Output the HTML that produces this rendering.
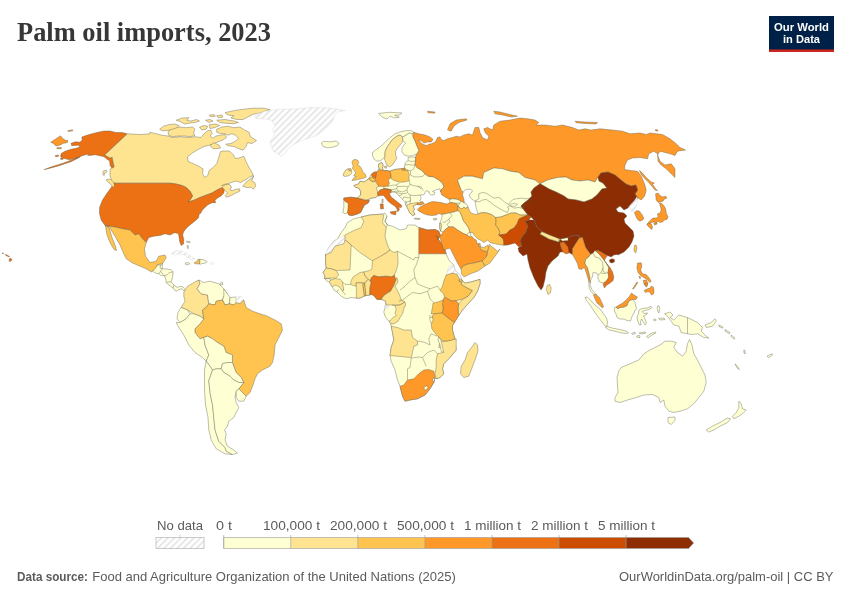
<!DOCTYPE html>
<html lang="en"><head><meta charset="utf-8"><title>Palm oil imports, 2023</title>
<style>
html,body{margin:0;padding:0;background:#fff;}
body{width:850px;height:600px;overflow:hidden;position:relative;font-family:"Liberation Sans",sans-serif;}
svg{position:absolute;left:0;top:0;display:block}
text{font-family:"Liberation Sans",sans-serif;}
.ttl{font-family:"Liberation Serif",serif;font-weight:bold;fill:#373737;}
.lg{font-size:13px;fill:#5b5b5b;}
.ft{font-size:13px;fill:#5b5b5b;}
</style></head><body>
<svg width="850" height="600" viewBox="0 0 850 600">
<defs>
<pattern id="h" width="4.6" height="4.6" patternUnits="userSpaceOnUse" patternTransform="rotate(-45)">
<rect width="4.6" height="4.6" fill="#fff"/><line x1="0" y1="2.3" x2="4.6" y2="2.3" stroke="#e0e0e0" stroke-width="1.5"/>
</pattern>
</defs>
<rect width="850" height="600" fill="#fff"/>
<text class="ttl" x="17" y="41" font-size="27" textLength="254" lengthAdjust="spacingAndGlyphs">Palm oil imports, 2023</text>
<!-- logo -->
<g>
<rect x="769" y="16" width="65" height="36" fill="#002147"/>
<rect x="769" y="49.5" width="65" height="2.5" fill="#ce261e"/>
<text x="801.5" y="30.8" text-anchor="middle" font-size="11.5" font-weight="bold" fill="#fff" textLength="55" lengthAdjust="spacingAndGlyphs">Our World</text>
<text x="801.5" y="43.2" text-anchor="middle" font-size="11.5" font-weight="bold" fill="#fff" textLength="37" lengthAdjust="spacingAndGlyphs">in Data</text>
</g>
<!-- map -->
<g stroke="#5a5a4a" stroke-width="0.4" stroke-linejoin="round">
<polygon points="127.2,133.7 122.0,132.5 116.0,132.5 110.0,131.0 104.0,131.0 98.0,132.2 92.0,133.7 86.0,135.5 81.8,137.0 82.2,140.0 80.0,142.2 75.5,141.8 71.0,143.3 71.7,145.7 78.5,145.2 80.0,146.7 76.2,148.2 71.0,149.3 65.0,151.2 61.2,153.5 60.5,156.5 63.5,158.3 69.5,159.8 75.5,158.3 80.0,156.8 77.0,158.7 71.0,161.7 65.0,163.7 57.5,166.2 50.0,168.2 44.0,169.7 50.0,167.3 57.5,164.9 65.0,162.5 71.0,160.2 77.0,157.7 83.0,155.4 89.0,153.8 87.5,155.3 90.5,155.4 95.0,154.7 99.5,155.7 104.0,156.8 107.0,159.2 109.7,161.0 110.0,165.5 112.2,168.5 114.2,167.0 113.0,161.7 112.2,157.2 110.0,158.0 104.7,155.0" fill="#ec7014"/>
<polygon points="50.7,142.2 60.5,135.8 62.7,138.5 65.0,140.0 68.0,140.7 67.2,142.7 63.5,143.3 59.7,145.2 56.0,146.0 53.7,143.7" fill="#fe9929"/>
<polygon points="67.7,130.7 72.5,129.8 72.8,130.7 68.3,131.6" fill="#fe9929"/>
<polygon points="55.2,155.7 58.2,155.0 58.7,156.2 55.7,156.8" fill="#ec7014"/>
<polygon points="60.5,158.0 62.7,157.7 63.2,159.2 60.8,159.5" fill="#ec7014"/>
<polygon points="56.7,147.8 61.2,147.5 61.4,148.7 57.0,148.7" fill="#fe9929"/>
<polygon points="127.5,133.8 140.0,134.5 150.0,133.8 150.0,132.2 156.0,133.7 162.0,135.2 168.0,136.0 172.5,137.5 180.0,136.7 187.5,137.5 195.0,136.7 201.0,137.5 204.0,133.7 207.7,130.7 210.7,130.0 212.2,133.7 210.0,136.0 213.0,138.2 216.0,136.0 220.5,135.2 225.0,134.5 226.5,137.5 222.0,140.5 217.5,142.0 214.5,143.5 210.0,145.0 204.0,146.5 198.0,149.5 192.0,153.2 187.5,157.0 188.2,161.5 193.5,163.7 199.5,166.7 203.2,169.0 202.5,173.5 204.7,177.2 207.7,175.7 209.2,170.5 213.0,167.5 216.7,163.7 218.2,159.2 220.5,151.7 223.5,151.0 229.5,151.0 233.2,154.7 235.5,158.5 240.0,157.7 243.7,156.2 246.0,161.5 249.0,167.5 252.7,173.5 253.5,177.2 253.2,175.7 249.5,177.2 245.0,180.2 240.5,182.5 236.0,181.0 231.5,182.5 227.0,184.0 222.5,186.2 221.7,185.5 225.5,184.0 230.0,184.7 231.5,187.0 230.0,190.0 232.2,190.7 236.0,189.2 239.7,188.8 239.7,191.2 234.5,193.7 230.0,196.0 226.2,197.2 225.5,195.2 227.7,193.0 224.3,190.0 222.5,187.7 220.2,188.5 216.5,190.3 212.0,193.0 206.0,195.2 200.0,197.5 194.0,200.2 188.0,202.0 190.2,199.7 192.5,196.0 190.2,191.5 186.5,187.7 182.0,185.5 176.0,184.0 170.0,183.2 113.8,183.2 114.5,183.5 110.0,181.2 111.5,179.0 110.0,176.0 110.0,169.2 114.2,167.0 113.0,161.7 112.2,157.2 110.0,158.0 104.7,155.0" fill="#fee391"/>
<polygon points="113.8,183.2 170.0,183.2 176.0,184.0 182.0,185.5 186.5,187.7 190.2,191.5 192.5,196.0 190.2,199.7 188.0,202.0 194.0,200.2 200.0,197.5 206.0,195.2 212.0,193.0 216.5,190.3 220.2,188.5 222.5,187.7 224.3,190.0 223.7,193.3 221.0,196.0 217.2,198.2 215.0,200.5 215.7,202.7 212.0,202.7 207.5,205.0 204.5,208.0 202.2,210.2 200.7,213.2 199.2,214.0 198.5,217.7 196.2,220.0 192.5,223.0 188.7,226.0 185.7,229.0 183.5,232.0 182.7,235.0 183.8,239.5 183.5,244.0 181.2,245.5 179.7,241.7 179.0,236.5 178.2,233.5 174.5,232.7 170.0,235.0 165.0,233.8 160.0,235.5 153.8,236.2 148.8,237.5 146.2,242.5 142.5,238.8 138.8,233.8 135.0,235.0 130.0,230.0 122.5,228.8 115.0,227.0 105.0,225.5 101.2,220.0 99.5,213.8 99.5,207.5 102.5,200.0 107.5,192.5 111.2,187.5" fill="#ec7014"/>
<polygon points="105.0,225.5 115.0,227.0 122.5,228.8 130.0,230.0 135.0,235.0 138.8,233.8 142.5,238.8 146.2,242.5 144.5,248.8 145.5,256.2 150.0,262.5 156.2,261.2 158.8,256.2 165.0,255.0 166.2,257.5 162.5,263.8 157.5,264.5 155.5,268.8 151.2,272.0 146.2,268.8 140.0,266.2 132.5,263.0 126.2,258.8 123.8,253.8 120.0,245.0 115.0,236.2 111.2,230.0 109.5,227.0" fill="#fec44f"/>
<polygon points="105.5,226.0 109.0,227.5 112.0,237.5 115.5,246.2 116.5,250.5 114.0,249.5 110.0,242.5 107.0,235.0" fill="#fec44f"/>
<polygon points="152.5,271.2 155.6,268.1 157.5,265.0 160.6,265.0 162.5,263.8 162.2,268.1 162.5,268.8 166.9,269.0 171.2,269.8 173.1,271.9 172.5,277.5 171.2,281.9 173.8,285.0 177.5,287.5 180.0,286.2 183.1,286.9 185.0,289.4 183.8,291.2 181.9,288.8 178.8,289.4 176.9,291.2 174.4,290.0 173.1,288.1 170.6,286.2 168.1,284.4 166.2,282.5 165.6,278.8 164.4,275.6 161.2,275.6 158.8,273.8 155.6,273.1" fill="#ffffd4"/>
<polygon points="171.2,253.8 176.2,250.6 182.5,251.2 188.1,254.4 191.9,256.9 195.0,258.8 191.2,259.4 187.5,257.5 185.0,255.0 180.0,253.8 174.4,254.8" fill="url(#h)" stroke="#d6d6d6"/>
<polygon points="194.0,262.8 196.9,261.5 197.8,259.4 199.8,259.4 200.0,261.9 199.4,264.0 195.0,263.8" fill="#fec44f"/>
<polygon points="199.8,259.4 203.8,259.8 206.9,261.5 205.6,263.1 201.9,263.5 200.0,264.4 199.4,264.0 200.0,261.9" fill="#ffffd4"/>
<polygon points="185.2,263.1 188.1,262.5 189.8,263.8 187.5,264.8 185.6,264.4" fill="#ffffd4"/>
<polygon points="210.0,262.8 213.1,262.5 213.5,264.0 210.2,264.2" fill="url(#h)" stroke="#d6d6d6"/>
<polygon points="186.5,241.0 190.2,241.7 189.9,242.8 186.8,242.2" fill="#ffffd4"/>
<polygon points="187.2,245.5 188.3,245.8 188.3,248.5 187.4,248.2" fill="#ffffd4"/>
<polygon points="220.0,283.1 222.5,282.5 222.8,284.8 220.2,284.8" fill="#ffffd4"/>
<polygon points="216.7,129.2 222.0,127.0 228.0,126.2 234.0,127.7 240.0,127.0 244.5,130.0 249.0,132.2 250.5,136.7 256.5,140.5 252.0,143.5 247.5,142.7 246.0,146.5 243.0,150.2 238.5,148.7 234.0,146.5 228.0,145.7 225.7,144.2 231.0,143.5 235.5,141.2 238.5,138.2 235.5,135.2 231.7,133.7 228.0,135.2 225.0,133.7 220.5,133.7 216.7,132.2" fill="#fee391"/>
<polygon points="168.0,132.2 170.2,129.2 174.7,127.7 180.0,127.0 186.0,127.7 192.7,127.0 195.0,129.2 193.5,133.0 195.0,135.2 190.5,136.7 184.5,136.0 178.5,136.0 172.5,136.7 168.7,135.2" fill="#fee391"/>
<polygon points="159.7,129.2 163.5,126.2 168.7,124.7 174.7,124.0 179.2,125.5 177.0,127.7 172.5,129.2 166.5,130.7 162.0,130.7" fill="#fee391"/>
<polygon points="176.2,120.2 182.2,118.0 189.0,117.7 186.7,120.2 190.5,121.0 196.5,119.5 199.5,121.0 195.0,122.5 189.0,123.2 184.5,124.0 180.7,121.7" fill="#fee391"/>
<polygon points="199.5,127.0 204.0,125.5 207.7,126.2 206.2,129.2 201.7,130.0" fill="#fee391"/>
<polygon points="209.2,124.7 216.0,124.0 219.7,125.5 214.5,127.7 210.0,128.5" fill="#fee391"/>
<polygon points="216.7,120.2 225.0,119.5 234.0,121.0 238.5,122.5 234.0,123.7 225.0,123.2 219.7,122.5" fill="#fee391"/>
<polygon points="225.0,112.7 231.0,111.2 240.0,109.7 252.0,108.2 264.0,108.2 270.0,109.7 261.0,112.7 253.5,114.2 247.5,117.2 243.0,119.5 237.0,119.5 231.0,118.0 234.0,115.7 228.0,115.0" fill="#fee391"/>
<polygon points="205.5,120.2 210.0,119.5 213.0,121.0 209.2,122.5" fill="#fee391"/>
<polygon points="209.2,115.0 214.5,114.7 215.2,116.2 210.7,116.8" fill="#fee391"/>
<polygon points="216.7,115.7 222.0,115.0 222.7,117.2 218.2,117.7" fill="#fee391"/>
<polygon points="210.0,145.7 213.7,142.7 219.0,145.0 220.5,148.0 216.7,148.7 213.0,148.7" fill="#fee391"/>
<polygon points="242.7,186.2 245.7,182.5 249.5,179.5 253.2,177.2 251.7,181.0 254.7,182.5 255.8,186.2 253.2,189.2 251.0,187.0 248.0,187.7 245.0,187.0" fill="#fee391"/>
<polygon points="254.4,116.2 257.5,113.8 265.0,111.2 277.5,109.4 297.5,108.8 310.0,107.5 325.0,107.8 333.8,108.5 345.6,110.6 337.5,111.9 335.0,115.0 333.1,120.0 330.0,124.4 325.0,128.8 320.0,133.1 315.0,136.2 308.8,138.1 302.5,140.6 296.2,143.1 291.2,146.2 287.5,150.0 284.4,153.8 281.2,156.2 277.5,153.8 273.1,151.2 271.2,146.2 270.0,141.2 273.1,137.5 274.4,133.8 272.5,129.4 275.0,126.2 273.1,121.9 270.0,119.4 262.5,118.8 256.2,118.8" fill="url(#h)" stroke="#d6d6d6"/>
<polygon points="321.2,143.1 323.8,141.2 330.0,141.9 336.2,141.0 339.0,143.1 337.5,145.6 332.5,147.2 327.5,147.8 323.1,146.5" fill="#ffffd4"/>
<polygon points="183.8,292.5 187.5,286.2 193.8,282.5 198.8,280.0 200.0,283.8 197.0,288.8 201.2,293.8 207.5,295.0 208.8,303.8 206.2,307.5 202.5,310.0 203.8,318.8 200.0,316.2 193.8,313.8 187.5,310.0 181.2,307.5 185.0,301.2 183.8,296.2" fill="#fee391"/>
<polygon points="200.0,283.8 198.8,280.0 203.8,282.5 210.0,281.2 218.8,283.8 223.8,288.8 227.5,293.8 223.8,296.2 222.5,300.0 216.2,301.2 215.0,305.0 208.8,303.8 207.5,295.0 201.2,293.8 197.0,288.8" fill="#ffffd4"/>
<polygon points="223.8,288.8 227.5,293.8 230.0,297.5 229.5,303.8 225.0,305.0 222.5,300.0 223.8,296.2" fill="#ffffd4"/>
<polygon points="230.0,297.5 236.2,297.0 236.2,302.5 233.8,305.0 229.5,303.8" fill="#ffffd4"/>
<polygon points="236.2,297.0 241.2,296.2 243.8,300.0 240.0,303.8 236.2,302.5" fill="url(#h)" stroke="#d6d6d6"/>
<polygon points="216.2,301.2 222.5,300.0 225.0,305.0 229.5,303.8 233.8,305.0 236.2,302.5 240.0,303.8 243.8,300.0 246.2,307.5 252.5,311.2 260.0,313.8 267.5,316.2 275.0,320.0 281.2,323.8 282.5,330.0 278.8,337.5 275.0,345.0 274.2,355.0 272.5,362.5 270.0,366.2 262.5,370.0 257.5,373.8 255.0,378.8 253.0,385.0 250.0,392.5 246.2,396.2 242.5,392.5 238.8,388.8 243.8,382.5 241.2,377.5 236.2,372.5 233.8,366.2 232.5,362.5 232.5,355.0 226.2,352.5 223.8,346.2 217.5,342.5 212.5,338.8 207.5,336.2 203.8,337.5 200.0,338.8 195.0,332.5 195.0,328.8 200.0,323.8 203.8,318.8 202.5,310.0 206.2,307.5 208.8,303.8 215.0,305.0" fill="#fec44f"/>
<polygon points="181.2,307.5 187.5,310.0 190.0,313.8 186.2,318.8 180.0,322.5 177.0,318.8 178.0,312.5" fill="#ffffd4"/>
<polygon points="180.0,322.5 186.2,318.8 190.0,313.8 193.8,313.8 200.0,316.2 203.8,318.8 200.0,323.8 195.0,328.8 195.0,332.5 200.0,338.8 203.8,337.5 205.0,345.0 208.8,355.0 206.2,361.2 202.5,357.5 195.0,352.5 188.8,345.0 183.8,335.0 178.8,327.5 176.2,322.5" fill="#ffffd4"/>
<polygon points="203.8,337.5 207.5,336.2 212.5,338.8 217.5,342.5 223.8,346.2 226.2,352.5 232.5,355.0 232.5,362.5 227.5,362.5 222.5,363.8 221.2,368.8 216.2,368.8 212.5,370.0 210.0,366.2 206.2,361.2 208.8,355.0 205.0,345.0" fill="#ffffd4"/>
<polygon points="222.5,363.8 227.5,362.5 232.5,362.5 233.8,366.2 236.2,372.5 241.2,377.5 243.8,382.5 238.8,382.5 233.8,380.0 230.0,376.2 223.8,372.5 221.2,368.8" fill="#ffffd4"/>
<polygon points="206.2,361.2 210.0,366.2 212.5,370.0 210.0,377.5 208.8,380.0 210.0,392.5 212.5,405.0 213.8,417.5 215.0,430.0 218.8,441.2 225.0,447.5 226.2,451.2 232.5,454.5 225.0,453.8 216.2,448.8 211.2,440.0 208.8,430.0 208.0,417.5 205.5,405.0 204.5,390.0 204.5,375.0 204.5,370.0" fill="#ffffd4"/>
<polygon points="212.5,370.0 216.2,368.8 221.2,368.8 223.8,372.5 230.0,376.2 233.8,380.0 238.8,382.5 243.8,382.5 238.8,388.8 236.2,391.2 235.0,397.5 236.2,402.5 238.8,407.5 236.2,412.5 233.8,417.5 228.8,421.2 227.5,426.2 224.5,430.0 226.2,433.8 225.0,440.0 227.5,446.2 233.8,450.0 237.5,453.0 232.5,454.5 226.2,451.2 225.0,447.5 218.8,441.2 215.0,430.0 213.8,417.5 212.5,405.0 210.0,392.5 208.8,380.0 210.0,377.5" fill="#ffffd4"/>
<polygon points="236.2,391.2 238.8,388.8 242.5,392.5 246.2,396.2 243.8,401.2 238.8,401.2 236.2,397.5" fill="#ffffd4"/>
<polygon points="353.8,218.8 361.2,217.0 370.0,215.0 381.2,214.2 385.0,213.2 387.0,216.2 385.0,221.2 387.5,225.0 392.5,226.2 400.0,230.0 406.2,228.8 407.5,225.0 415.0,225.0 418.8,227.5 427.5,230.0 435.0,229.5 438.8,231.2 440.5,235.8 438.0,239.5 436.2,235.5 438.8,240.0 443.8,246.2 446.2,253.8 448.8,260.0 453.8,265.0 455.0,270.0 460.0,275.0 461.2,278.8 462.2,280.6 465.0,283.1 471.2,281.9 480.0,279.4 480.0,283.8 477.5,291.2 473.8,297.5 467.5,304.4 462.5,310.0 459.4,314.4 457.5,317.5 454.4,322.5 452.5,325.6 452.5,330.0 453.8,335.0 455.0,338.8 455.6,345.0 456.2,350.0 450.0,357.5 443.8,363.8 442.5,368.8 443.8,373.8 440.0,377.5 436.2,378.8 435.0,377.5 433.8,382.5 430.0,388.8 425.0,395.0 417.5,398.8 410.0,400.0 405.0,401.2 402.5,396.2 400.0,386.2 397.5,380.0 395.0,370.0 391.2,361.2 390.0,355.5 391.2,347.5 393.8,340.0 392.5,332.5 391.2,326.2 390.0,321.2 388.1,320.6 385.0,316.2 383.8,311.9 385.0,308.1 385.0,305.6 386.2,305.0 385.6,301.2 383.1,300.0 381.2,299.4 376.9,299.4 374.4,296.2 371.9,294.4 369.8,295.0 366.0,295.6 364.4,296.0 360.0,298.1 356.2,298.1 351.2,297.5 346.2,298.8 341.2,296.2 338.8,293.8 336.9,291.9 334.4,290.6 332.5,287.5 330.6,284.4 329.4,281.9 326.9,281.2 325.0,278.8 324.4,278.5 325.0,275.6 323.1,272.5 326.2,268.1 325.6,262.5 325.6,255.0 328.8,247.5 333.8,241.2 337.5,238.8 341.2,232.5 345.0,227.5 347.5,222.5" fill="#ffffd4"/>
<polygon points="337.5,238.8 345.0,235.0 345.0,240.0 343.8,243.8 335.0,246.2 331.2,252.5 325.0,255.0 328.8,247.5 333.8,241.2" fill="url(#h)" stroke="#d6d6d6"/>
<polygon points="363.8,221.2 361.2,217.0 370.0,215.0 381.2,214.2 383.8,215.0 382.5,222.5 386.2,227.5 385.0,236.2 387.5,245.0 390.0,250.0 385.0,253.8 373.8,261.2 371.2,260.0 360.0,252.5 345.0,240.0 345.0,235.0 352.5,231.2 361.2,227.5" fill="#fee391"/>
<polygon points="418.8,227.5 427.5,230.0 435.0,229.5 438.8,231.2 440.5,235.8 438.0,239.5 436.2,235.5 438.8,240.0 443.8,246.2 446.2,253.8 418.8,253.8" fill="#ec7014"/>
<polygon points="350.6,284.4 351.2,280.6 353.1,276.9 356.2,275.0 360.0,272.5 363.8,271.9 365.0,275.6 368.1,279.4 364.8,283.1 363.1,283.1 362.5,282.8 356.2,282.8 356.2,286.2 353.1,285.6" fill="#fee391"/>
<polygon points="356.2,282.8 362.5,282.8 363.1,283.1 363.1,286.2 363.8,291.2 364.4,296.0 360.0,298.1 356.2,298.1 356.5,291.2 356.2,286.2" fill="#fee391"/>
<polygon points="363.1,283.1 364.8,283.1 365.2,287.5 366.0,295.6 364.4,296.0 363.8,291.2 363.1,286.2" fill="#fec44f"/>
<polygon points="364.8,283.1 368.1,279.4 370.6,280.6 371.2,283.1 370.0,287.5 369.8,295.0 366.0,295.6 365.2,287.5" fill="#fee391"/>
<polygon points="385.0,305.6 388.5,305.6 388.5,308.1 385.0,308.1" fill="url(#h)" stroke="#d6d6d6"/>
<polygon points="391.2,326.2 397.5,327.5 403.8,330.0 411.2,330.0 412.5,337.5 417.5,341.2 417.5,345.0 413.8,346.2 412.5,352.5 411.2,357.5 405.0,357.0 397.5,356.2 390.0,355.5 391.2,347.5 393.8,340.0 392.5,332.5" fill="#fee391"/>
<polygon points="438.8,347.5 440.0,341.2 446.2,341.2 456.2,338.8 456.2,350.0 450.0,357.5 443.8,363.8 442.5,368.8 443.8,373.8 440.0,377.5 436.2,378.8 435.0,373.8 436.2,367.5 436.2,360.0 437.5,353.8 442.5,352.5 441.2,347.5" fill="#fee391"/>
<polygon points="438.8,336.2 441.2,341.2 442.5,347.5 443.8,352.5 441.2,351.2 440.0,345.0 438.0,340.0" fill="#ffffd4"/>
<polygon points="400.0,386.2 403.8,385.0 407.5,380.0 413.8,378.8 418.8,373.8 423.8,370.0 428.8,369.5 433.8,371.2 435.0,377.5 433.8,382.5 430.0,388.8 425.0,395.0 417.5,398.8 410.0,400.0 405.0,401.2 402.5,396.2 401.2,391.2" fill="#fe9929"/>
<polygon points="423.8,387.5 427.0,385.5 428.0,388.0 425.0,390.5" fill="#ffffd4"/>
<polygon points="432.5,378.8 434.5,378.0 434.5,381.2 432.5,381.2" fill="#ffffd4"/>
<polygon points="475.0,342.5 477.5,345.0 478.0,351.2 475.0,360.0 471.2,370.0 468.8,376.2 463.8,377.5 460.5,373.8 461.2,366.2 465.0,360.0 467.5,352.5 472.5,346.2" fill="#fee391"/>
<polygon points="342.8,212.5 343.8,207.5 343.8,201.9 343.8,198.1 351.2,197.2 357.5,198.1 360.6,195.0 360.6,191.2 358.8,188.1 355.6,187.2 353.8,185.6 358.8,183.8 360.0,181.2 364.4,181.9 369.0,178.5 371.2,174.4 373.8,172.2 376.5,171.9 378.8,170.0 378.8,163.8 381.9,162.5 383.1,165.0 382.5,168.1 383.1,170.6 386.9,170.6 390.0,171.2 395.0,169.4 401.2,168.8 404.8,168.1 404.4,166.2 405.0,165.0 405.0,163.1 408.1,160.6 408.1,157.5 412.5,156.9 415.6,157.5 415.6,160.6 415.0,164.4 416.9,167.5 421.2,170.0 425.0,173.8 428.1,176.2 433.8,176.9 438.8,180.0 442.5,183.1 443.8,186.2 444.0,187.0 441.0,190.0 440.6,191.9 440.0,188.8 435.6,190.0 432.5,191.5 435.0,192.5 433.8,195.0 430.6,194.8 428.8,193.1 429.4,191.9 426.2,190.6 423.8,194.8 420.0,195.0 421.2,198.1 420.0,200.6 422.5,203.8 420.0,205.0 418.1,204.0 415.0,205.0 413.1,206.2 414.4,209.4 413.1,211.2 415.0,214.4 412.5,215.6 410.0,213.1 408.5,210.0 407.2,207.5 405.6,205.0 405.0,201.9 402.5,199.4 398.8,195.6 395.6,192.5 393.1,191.9 391.2,192.5 391.2,190.0 386.9,189.0 383.8,188.8 380.0,190.0 377.5,193.1 378.1,195.6 375.6,197.5 371.2,198.1 368.8,199.4 365.6,200.0 369.4,200.6 368.1,203.1 364.4,205.0 362.5,208.8 360.6,212.5 356.2,214.4 351.9,215.6 348.8,215.0 347.5,212.5 345.0,213.8" fill="#ffffd4"/>
<polygon points="343.8,198.1 351.2,197.2 357.5,198.1 361.2,199.0 365.6,200.2 369.4,200.6 368.1,203.1 364.4,205.0 362.5,208.8 360.6,212.5 356.2,214.4 351.9,215.6 348.8,215.0 347.5,212.5 348.1,207.5 348.1,203.1 345.6,201.9 343.8,200.0" fill="#ec7014"/>
<polygon points="353.8,185.6 358.8,183.8 360.0,181.2 364.4,181.9 369.0,178.5 370.0,180.2 372.5,181.8 375.2,181.5 377.5,184.0 378.8,186.5 376.2,187.5 377.2,189.8 377.5,193.1 378.1,195.6 375.6,197.5 371.2,198.1 368.8,199.4 365.6,200.0 361.2,198.8 357.5,198.1 360.6,195.0 360.6,191.2 358.8,188.1 355.6,187.2" fill="#fee391"/>
<polygon points="381.9,199.4 383.1,199.0 383.1,202.5 381.9,202.5" fill="#fee391"/>
<polygon points="369.0,178.1 372.2,177.1 373.8,178.2 375.4,178.8 375.0,181.2 372.5,181.5 370.0,180.0" fill="#fec44f"/>
<polygon points="371.2,174.4 373.8,172.2 376.5,171.9 376.5,175.0 375.6,178.1 373.8,178.1 372.2,176.9" fill="#ec7014"/>
<polygon points="376.5,171.9 378.8,170.0 381.2,169.4 383.1,170.6 386.9,170.6 390.0,171.2 391.0,175.0 390.6,178.1 388.1,180.0 389.4,183.1 388.1,186.2 383.8,186.5 378.8,186.2 377.5,183.8 375.6,181.2 375.4,178.8 376.2,175.6" fill="#fe9929"/>
<polygon points="378.8,163.8 381.9,162.5 383.1,165.0 382.5,168.1 383.1,170.0 380.0,169.8 378.5,166.9" fill="#fee391"/>
<polygon points="384.4,166.2 386.9,166.0 386.5,168.1 384.8,168.1" fill="#fee391"/>
<polygon points="390.0,171.2 395.0,169.4 401.2,168.8 402.5,170.0 407.5,170.0 409.4,174.4 408.8,178.1 409.4,180.6 405.0,181.9 400.0,182.2 396.2,181.2 393.1,180.0 391.0,178.5 391.0,175.0" fill="#fec44f"/>
<polygon points="401.2,168.8 405.0,168.1 406.2,169.8 402.5,170.0" fill="#fe9929"/>
<polygon points="406.9,205.0 410.0,203.8 413.8,203.1 417.5,202.5 418.1,204.0 415.0,205.0 413.1,206.2 414.4,209.4 413.1,211.2 415.0,214.4 412.5,215.6 410.0,213.1 408.5,210.0 407.2,207.5" fill="#fee391"/>
<polygon points="414.4,218.1 420.0,218.5 419.8,219.5 414.8,219.1" fill="#fee391"/>
<polygon points="377.5,193.1 380.0,190.0 383.8,188.8 386.9,189.0 391.2,190.0 391.0,192.5 389.4,193.8 391.2,196.9 395.0,200.0 398.8,203.1 401.9,205.6 401.2,207.5 398.8,206.9 399.4,210.0 397.5,211.9 396.9,208.8 395.0,206.2 391.2,203.8 388.1,201.2 385.6,198.1 383.8,195.6 380.6,195.6 378.1,196.0" fill="#ec7014"/>
<polygon points="390.0,211.9 396.2,211.0 395.6,215.0 391.2,213.8" fill="#ec7014"/>
<polygon points="380.2,204.0 383.1,203.8 383.5,208.8 380.6,209.0" fill="#ec7014"/>
<polygon points="355.0,159.4 357.5,160.0 358.8,162.5 357.5,165.0 360.0,166.2 361.9,169.4 363.1,172.5 365.6,174.4 366.2,176.9 364.4,178.1 360.0,179.0 355.6,180.0 351.9,180.6 353.8,178.1 356.2,176.9 353.8,175.6 355.6,173.1 354.4,170.6 352.5,168.8 353.1,165.6 351.9,162.5 353.1,160.0" fill="#fec44f"/>
<polygon points="348.1,168.8 350.6,168.5 351.5,170.2 349.4,171.0" fill="#fec44f"/>
<polygon points="343.8,173.1 345.6,170.0 348.1,168.8 349.4,171.0 351.5,170.6 351.9,173.1 349.4,175.6 345.0,176.5 343.1,175.6" fill="#fee391"/>
<polygon points="414.4,132.5 412.5,135.0 413.1,137.5 415.0,141.2 416.9,146.2 418.8,150.6 416.9,153.8 415.6,156.2 415.6,160.6 415.0,164.4 416.9,167.5 421.2,170.0 425.0,173.8 428.1,176.2 433.8,176.9 438.8,180.0 442.5,183.1 443.8,186.2 444.0,187.0 441.0,190.0 440.6,191.9 441.9,195.0 445.0,196.9 449.4,199.4 453.1,198.8 457.5,199.4 461.2,201.2 464.4,203.1 463.8,198.8 462.5,195.0 463.1,191.9 461.2,190.0 458.8,183.8 457.5,180.0 463.8,176.2 472.5,176.2 482.5,178.8 483.8,172.5 493.8,168.0 502.5,168.8 510.0,171.2 518.8,172.5 525.0,177.5 535.0,180.0 540.0,183.8 547.5,180.0 557.5,177.5 566.0,177.0 572.0,180.0 580.0,181.0 588.0,180.0 595.0,182.0 598.0,177.0 601.0,173.0 608.0,172.0 615.0,175.0 621.0,180.0 626.0,184.0 631.0,186.0 636.0,185.0 637.6,190.0 635.0,194.0 638.0,198.0 641.2,200.0 644.5,196.2 646.2,190.0 644.5,183.8 641.2,176.2 637.5,171.2 631.2,170.5 624.5,169.5 625.0,165.0 627.5,160.0 632.5,158.0 640.0,157.5 647.5,158.8 648.8,153.8 653.8,151.2 657.5,153.8 658.0,161.2 661.2,165.0 666.2,168.8 671.2,173.8 675.0,177.5 675.0,168.8 671.2,163.8 665.0,165.0 660.0,161.2 657.5,155.0 660.0,151.2 665.0,152.5 670.0,153.8 675.0,155.5 677.5,151.2 685.5,150.0 680.0,147.5 676.2,143.8 670.0,138.8 662.5,134.5 650.0,133.0 646.2,134.5 640.0,133.0 630.0,133.8 622.5,131.2 612.5,130.0 600.0,128.8 591.2,130.0 585.0,128.8 578.8,130.0 572.5,127.5 562.5,125.0 555.0,126.2 545.0,125.0 536.2,125.0 538.8,122.5 535.0,120.0 527.5,118.8 520.0,118.0 510.0,120.0 500.0,121.2 493.8,125.0 492.5,130.0 487.5,127.5 483.8,128.8 485.0,132.5 488.8,136.2 487.5,140.0 482.5,137.5 480.0,132.5 478.8,127.5 475.0,127.5 472.5,135.0 468.8,133.8 463.8,135.0 460.0,136.9 456.2,136.2 452.5,137.5 447.5,138.8 443.8,140.6 441.2,139.4 440.0,136.9 437.5,137.5 436.2,140.6 434.4,142.5 431.2,143.8 428.1,144.4 426.9,145.6 423.1,144.4 420.0,141.9 418.8,140.0 421.2,140.6 423.8,143.1 427.5,141.9 431.2,141.9 433.1,139.4 430.0,136.9 425.0,135.0 418.8,133.8" fill="#fe9929"/>
<polygon points="447.5,130.0 450.0,123.8 456.2,120.0 466.2,118.8 467.0,120.0 458.8,122.5 453.8,126.2 451.2,131.2" fill="#fe9929"/>
<polygon points="427.5,111.2 435.0,112.0 434.5,113.2 428.0,112.8" fill="#fe9929"/>
<polygon points="493.8,111.2 500.0,112.0 510.0,114.5 517.5,116.2 511.2,117.0 502.5,115.0 495.0,113.8" fill="#fe9929"/>
<polygon points="575.0,121.2 585.0,122.0 597.5,122.5 596.2,124.0 585.0,123.5 576.2,122.8" fill="#fe9929"/>
<polygon points="655.5,129.5 658.0,130.0 657.5,131.2 655.5,130.8" fill="#fe9929"/>
<polygon points="463.8,176.2 472.5,176.2 482.5,178.8 483.8,172.5 493.8,168.0 502.5,168.8 510.0,171.2 518.8,172.5 525.0,177.5 535.0,180.0 540.0,183.8 534.0,188.0 531.0,192.0 532.0,196.0 528.0,200.0 524.0,203.0 521.0,206.0 524.0,210.0 528.0,215.0 520.0,215.0 516.0,213.0 511.0,213.0 506.0,215.0 501.0,217.0 495.6,217.5 491.2,214.4 486.2,212.8 481.2,212.8 478.1,214.0 477.5,211.9 476.2,208.1 475.6,204.4 475.0,201.2 473.1,200.0 470.0,197.5 469.4,194.4 471.2,193.1 472.5,190.6 470.0,189.0 465.6,189.8 463.1,191.9 461.2,190.0 458.8,183.8 457.5,180.0" fill="#ffffd4"/>
<polygon points="449.4,199.4 453.1,198.8 457.5,199.4 461.2,201.2 464.4,203.1 466.9,204.4 468.1,206.9 465.6,208.4 463.8,207.1 461.9,209.0 460.0,208.1 458.1,205.9 456.2,203.4 452.5,202.8 450.0,202.5" fill="#ffffd4"/>
<polygon points="420.0,206.9 423.8,205.0 428.1,203.1 432.5,201.5 437.5,202.1 441.9,202.8 446.9,204.0 450.0,202.5 452.5,202.8 456.2,203.4 458.1,205.9 457.5,208.1 458.1,210.6 453.1,212.2 450.0,212.8 445.6,213.8 441.9,214.4 438.8,213.5 436.2,215.0 431.9,215.6 427.5,215.0 423.8,213.8 420.6,211.9 418.8,211.2 417.5,209.4" fill="#fe9929"/>
<polygon points="416.9,203.1 420.0,202.5 422.5,201.5 424.4,203.8 421.2,204.4 418.1,205.0" fill="#fe9929"/>
<polygon points="433.1,219.0 436.2,218.1 436.9,219.4 434.0,220.2" fill="#fee391"/>
<polygon points="441.9,214.4 445.6,213.8 450.0,212.8 453.1,212.2 458.1,210.6 460.0,211.9 461.9,216.2 463.1,220.0 466.2,224.4 468.8,228.1 470.0,232.5 471.0,235.0 469.4,236.9 466.9,235.0 462.5,233.1 457.5,230.0 453.1,226.9 448.8,226.9 445.6,229.4 443.1,231.9 440.6,231.2 439.8,228.1 439.8,223.1 441.9,218.1" fill="#ffffd4"/>
<polygon points="439.8,223.1 441.2,223.1 441.5,227.5 440.6,231.2 439.8,228.1" fill="#fee391"/>
<polygon points="458.1,205.9 460.0,208.1 461.9,209.0 463.8,207.1 465.6,208.4 468.1,207.1 469.4,210.6 471.2,213.1 475.0,214.4 478.1,214.0 481.2,212.8 486.2,212.8 491.2,214.4 495.6,217.5 496.2,221.2 495.6,225.0 498.1,228.1 500.0,232.5 498.8,235.0 503.1,238.8 503.8,241.9 503.8,245.2 501.2,245.0 495.0,243.8 490.0,242.5 487.5,240.0 483.8,242.5 481.2,240.6 477.5,238.8 474.4,235.6 472.5,232.5 470.0,232.5 468.8,228.1 466.2,224.4 463.1,220.0 461.9,216.2 460.0,211.9 458.1,210.6 457.5,208.1" fill="#fec44f"/>
<polygon points="443.1,231.9 445.6,229.4 448.8,226.9 453.1,226.9 457.5,230.0 462.5,233.1 466.9,235.0 469.4,236.9 471.9,236.2 473.8,238.8 476.2,240.0 476.9,243.1 478.8,243.8 479.0,246.2 480.0,248.5 482.5,250.6 487.5,251.9 487.0,256.0 482.0,261.0 474.0,263.0 468.0,264.0 463.0,266.0 461.0,269.0 458.0,264.0 454.0,256.0 450.0,248.0 443.8,250.0 441.2,242.5 440.0,236.2 441.9,233.8" fill="#fe9929"/>
<polygon points="478.8,243.8 480.0,243.1 480.6,246.9 479.0,246.2" fill="#fec44f"/>
<polygon points="480.6,246.9 483.8,247.5 486.2,246.2 488.1,245.0 488.5,248.1 487.5,251.9 482.5,250.6 480.0,248.5" fill="#fec44f"/>
<polygon points="488.5,248.1 489.4,244.4 491.2,246.2 493.8,248.1 497.5,251.2 500.0,249.0 496.0,255.0 493.0,259.0 490.0,263.0 485.0,266.0 482.0,261.0 487.0,256.0 487.5,251.9" fill="#fec44f"/>
<polygon points="461.0,269.0 463.0,266.0 468.0,264.0 474.0,263.0 482.0,261.0 485.0,266.0 478.0,271.0 470.0,274.0 464.0,277.0 461.6,274.0" fill="#fec44f"/>
<polygon points="501.0,217.0 506.0,215.0 511.0,213.0 516.0,213.0 520.0,215.0 528.0,215.0 523.0,217.0 519.0,219.0 517.0,224.0 514.0,228.0 510.0,230.0 506.0,234.0 498.8,235.0 500.0,232.5 498.1,228.1 495.6,225.0 496.2,221.2 495.6,217.5" fill="#fec44f"/>
<polygon points="498.8,235.0 506.0,234.0 510.0,230.0 514.0,228.0 517.0,224.0 519.0,219.0 523.0,217.0 528.0,215.0 531.0,217.0 529.0,220.0 525.0,221.0 528.0,226.0 526.0,232.0 522.0,237.0 520.0,241.0 522.0,246.0 519.0,247.0 515.0,243.0 508.0,245.0 503.8,245.2 503.8,241.9 503.1,238.8" fill="#cc4c02"/>
<polygon points="525.0,221.0 529.0,220.0 534.0,220.0 537.0,227.0 542.0,231.6 540.0,234.0 549.0,239.0 559.0,242.0 560.0,239.0 568.0,240.4 568.0,237.4 574.0,235.0 580.0,236.0 579.4,238.1 575.6,243.8 572.5,248.8 572.5,254.4 568.0,252.0 567.0,247.0 564.0,247.0 564.0,242.0 560.0,243.0 561.0,247.0 563.0,252.0 560.0,252.0 558.0,256.0 552.0,261.0 548.0,266.0 546.0,272.0 545.0,279.0 543.0,287.0 541.0,290.0 538.0,286.0 534.0,278.0 530.0,268.0 528.0,260.0 527.0,254.0 523.0,256.0 519.0,252.0 518.0,248.0 522.0,246.0 520.0,241.0 522.0,237.0 526.0,232.0 528.0,226.0" fill="#8c2d04"/>
<polygon points="560.0,243.0 564.0,242.0 568.0,247.0 569.0,253.0 566.0,254.0 563.0,252.0 561.0,247.0" fill="#ec7014"/>
<polygon points="540.0,234.0 542.0,231.6 550.0,235.0 559.0,238.0 559.0,242.0 549.0,239.0" fill="#fee391"/>
<polygon points="560.0,239.0 568.0,237.4 568.0,240.4 562.4,241.0" fill="#ffffd4"/>
<polygon points="547.0,285.6 549.6,284.4 551.2,288.0 550.4,293.0 548.0,294.4 546.6,290.0" fill="#fee391"/>
<polygon points="540.0,183.8 547.5,180.0 557.5,177.5 566.0,177.0 572.0,180.0 580.0,181.0 588.0,180.0 595.0,182.0 598.0,177.0 599.0,181.0 603.0,183.0 607.0,188.0 602.0,189.0 597.0,195.0 592.0,199.0 584.0,202.0 576.0,200.0 568.0,199.0 564.0,196.0 556.0,192.0 549.0,189.0 544.0,186.0" fill="#ffffd4"/>
<polygon points="521.0,206.0 524.0,203.0 528.0,200.0 532.0,196.0 531.0,192.0 534.0,188.0 540.0,183.8 544.0,186.0 549.0,189.0 556.0,192.0 564.0,196.0 568.0,199.0 576.0,200.0 584.0,202.0 592.0,199.0 597.0,195.0 602.0,189.0 607.0,188.0 603.0,183.0 599.0,181.0 598.0,177.0 601.0,173.0 608.0,172.0 615.0,175.0 621.0,180.0 626.0,184.0 631.0,186.0 636.0,185.0 637.6,190.0 635.0,194.0 638.0,198.0 635.0,201.0 631.0,204.0 628.0,208.0 624.0,210.0 620.0,206.0 616.0,209.0 618.0,212.0 624.0,213.0 627.0,216.0 624.0,219.0 625.0,223.0 629.0,227.0 633.0,231.0 634.0,236.0 632.0,242.0 629.0,247.0 624.0,252.0 618.0,255.0 617.5,254.4 613.8,255.0 611.2,256.9 607.5,255.6 605.0,254.4 601.2,251.9 598.1,250.6 595.0,250.6 593.1,253.1 590.6,254.4 588.8,251.9 585.6,247.5 583.8,241.9 582.5,237.5 579.4,238.1 580.0,236.0 574.0,235.0 568.0,237.4 560.0,239.0 550.0,235.0 542.0,231.6 537.0,227.0 534.0,220.0 531.0,217.0 528.0,215.0 524.0,210.0" fill="#8c2d04"/>
<polygon points="664.5,313.8 670.0,312.0 673.0,315.0 670.0,317.5 673.8,320.0 678.8,315.0 687.5,317.5 697.5,322.5 702.5,327.5 701.2,331.2 706.2,336.2 708.8,338.0 703.8,337.5 697.5,333.8 692.5,334.5 687.5,333.8 681.2,332.5 678.8,326.2 673.8,325.0 671.2,321.2 667.5,316.2" fill="#ffffd4"/>
<polygon points="705.0,325.0 711.2,322.5 715.0,318.8 716.2,321.2 712.5,326.2 706.2,327.5" fill="#ffffd4"/>
<polygon points="618.8,371.2 621.2,367.5 630.0,363.8 638.8,360.0 643.8,353.8 650.0,350.0 655.0,347.5 660.0,345.0 665.0,341.2 671.2,341.2 676.2,342.5 673.8,347.5 677.5,352.5 682.5,356.2 686.2,351.2 687.5,343.8 689.5,339.5 692.0,345.0 693.8,353.8 697.5,360.0 701.2,367.5 705.0,375.0 706.2,382.5 703.8,391.2 698.8,397.5 693.8,403.8 687.5,408.8 680.0,411.2 673.8,412.5 668.8,411.2 665.0,406.2 663.8,400.0 660.0,402.5 658.8,397.5 652.5,394.5 643.8,395.0 636.2,397.5 627.5,400.0 620.0,402.5 615.0,401.2 615.0,397.5 618.0,392.5 617.5,385.0 617.0,377.5" fill="#ffffd4"/>
<polygon points="668.0,417.5 675.0,417.0 675.0,420.5 671.2,424.5 668.0,422.5" fill="#ffffd4"/>
<polygon points="738.8,401.2 741.2,403.8 742.5,408.8 746.2,410.0 742.5,413.8 738.8,416.2 733.8,418.8 732.5,416.2 736.2,412.5 738.8,407.5" fill="#ffffd4"/>
<polygon points="706.2,430.0 712.5,426.2 720.0,422.5 727.5,418.0 730.5,418.8 727.5,422.5 720.0,426.2 713.8,430.0 708.8,432.0" fill="#ffffd4"/>
<polygon points="735.0,363.8 737.5,366.2 739.5,369.5 737.0,368.0" fill="#ffffd4"/>
<polygon points="458.8,279.4 461.2,278.8 462.2,280.6 460.0,282.2" fill="#fec44f"/>
<polygon points="325.0,255.0 331.2,252.5 335.0,246.2 343.8,243.8 345.0,240.0 351.2,244.8 350.0,270.0 336.2,270.6 331.2,268.8 326.2,268.1 325.6,262.5 325.6,255.0" fill="#fee391"/>
<polygon points="385.0,253.8 390.0,250.0 393.8,252.5 397.5,251.2 398.1,262.5 396.9,268.8 394.4,275.0 391.9,276.9 386.2,276.2 378.8,276.9 373.8,275.6 371.2,278.1 370.6,280.6 368.1,279.4 365.0,275.6 363.8,271.9 369.4,270.6 371.9,268.8 372.5,260.6" fill="#fee391"/>
<polygon points="370.6,280.6 371.2,278.1 373.8,275.6 378.8,276.9 386.2,276.2 391.9,276.9 394.4,275.0 396.0,280.0 393.8,285.6 390.6,291.2 387.5,293.1 383.8,295.6 381.2,299.4 376.9,299.4 374.4,296.2 371.9,294.4 369.8,294.8 370.0,287.5 371.2,283.1" fill="#ec7014"/>
<polygon points="396.0,280.0 396.9,277.5 398.1,281.9 395.0,286.2 397.5,290.6 400.0,296.2 401.2,300.0 405.0,301.9 400.0,305.0 391.9,305.0 386.2,305.0 385.6,301.2 383.1,300.0 381.2,299.4 383.8,295.6 387.5,293.1 390.6,291.2 393.8,285.6" fill="#fee391"/>
<polygon points="395.0,305.6 400.0,305.0 405.0,301.9 405.6,305.0 403.8,308.8 402.5,313.8 400.0,317.5 398.1,321.2 393.8,323.8 390.6,323.8 389.4,321.9 391.2,319.4 393.1,317.5 396.2,315.6 395.0,313.1 396.2,309.4" fill="#fee391"/>
<polygon points="323.1,272.5 326.2,268.1 331.2,268.8 336.2,270.6 338.8,275.0 335.6,278.1 330.6,278.1 324.4,278.5 325.0,275.6" fill="#fee391"/>
<polygon points="329.4,281.9 330.6,280.0 335.6,278.5 340.6,279.4 342.5,281.9 343.1,286.2 343.8,290.0 341.9,290.6 340.0,287.5 336.9,285.6 335.0,285.0 332.5,286.9 330.6,284.4" fill="#fee391"/>
<polygon points="446.2,275.0 447.5,270.0 449.4,265.6 453.1,265.0 455.0,270.0 460.0,275.0 461.2,278.8 458.8,279.4 456.9,274.4 452.5,273.1" fill="url(#h)" stroke="#d6d6d6"/>
<polygon points="440.0,290.6 442.5,286.2 443.8,281.2 446.2,275.0 452.5,273.1 456.9,274.4 459.4,278.8 458.8,281.2 461.9,282.5 461.2,284.4 467.5,288.1 472.5,290.6 468.1,296.2 462.5,299.4 456.2,300.6 451.9,301.2 447.5,298.8 444.4,296.2 443.1,293.1" fill="#fec44f"/>
<polygon points="462.2,280.6 465.0,283.1 471.2,281.9 480.0,279.4 480.0,283.8 477.5,291.2 473.8,297.5 467.5,304.4 462.5,310.0 459.4,314.4 458.1,313.1 458.1,307.5 458.8,303.8 462.5,299.4 468.1,296.2 472.5,290.6 467.5,288.1 461.2,284.4 461.9,282.5" fill="#fee391"/>
<polygon points="443.1,300.0 444.4,296.9 447.5,298.8 451.9,301.2 456.2,300.6 458.8,303.8 458.1,307.5 458.1,313.1 459.4,314.4 457.5,317.5 454.4,322.5 450.0,319.4 441.9,313.1 443.1,308.8 442.5,303.8" fill="#fe9929"/>
<polygon points="433.1,303.1 438.1,301.9 443.1,300.0 442.5,303.8 443.1,308.8 441.9,313.1 433.8,313.8 431.2,313.8 432.2,308.8" fill="#fec44f"/>
<polygon points="433.8,313.8 441.9,313.1 450.0,319.4 454.4,322.5 452.5,325.6 452.5,330.0 453.8,335.0 455.0,338.8 450.0,340.6 443.1,341.2 440.0,338.1 435.6,333.8 431.9,328.8 431.2,323.8 433.1,320.0 432.2,316.2" fill="#fec44f"/>
<polygon points="9.2,259.0 10.5,258.0 12.0,259.5 11.0,261.0 9.3,261.5" fill="#ec7014"/>
<polygon points="5.0,254.5 7.0,255.0 9.5,256.5 9.0,257.0 6.0,255.5" fill="#ec7014"/>
<polygon points="2.0,253.0 3.5,253.0 3.0,254.0" fill="#ec7014"/>
<polygon points="378.6,113.4 389.0,112.3 402.0,112.9 400.0,114.8 394.6,115.3 399.3,117.2 394.6,118.0 390.0,116.0 387.0,119.0 382.4,117.2" fill="#ffffd4"/>
<polygon points="572.5,248.8 575.6,243.8 579.4,238.1 582.5,237.5 583.8,241.9 585.6,247.5 588.8,251.9 590.6,254.4 588.8,256.9 585.6,259.4 585.0,263.8 587.5,267.5 588.8,272.5 590.0,277.5 590.6,282.5 589.4,283.8 588.1,278.8 586.2,272.5 584.4,267.5 581.2,269.4 578.8,268.8 577.5,263.8 575.0,258.8 572.5,254.4" fill="#fe9929"/>
<polygon points="585.6,259.4 588.8,256.9 590.6,254.4 593.1,253.1 595.0,250.6 596.9,251.9 600.0,255.0 603.1,258.8 606.2,263.1 608.8,267.5 608.1,272.5 608.8,276.9 606.9,280.6 603.1,283.1 599.4,281.9 597.8,278.1 598.1,275.0 596.9,273.1 593.1,272.5 592.5,276.9 590.6,280.0 590.0,285.0 591.9,289.4 594.4,292.5 596.9,295.0 595.0,295.6 591.9,292.5 589.4,288.8 588.8,285.0 590.0,277.5 588.8,272.5 587.5,267.5 585.0,263.8" fill="#ffffd4"/>
<polygon points="595.0,250.6 598.1,250.6 601.2,251.9 605.0,254.4 607.5,255.6 605.6,258.1 604.4,260.6 606.9,263.8 610.0,267.5 612.5,271.9 613.8,276.9 613.1,280.6 610.0,283.1 606.2,285.6 604.4,288.1 603.1,283.8 606.9,280.6 608.8,276.9 608.1,272.5 608.8,267.5 606.2,263.1 603.1,258.8 600.0,255.0 596.9,251.9" fill="#ec7014"/>
<polygon points="609.4,260.0 611.9,258.8 614.4,259.4 614.4,261.9 611.9,263.1 609.8,262.2" fill="#8c2d04"/>
<polygon points="634.4,245.6 636.2,245.0 636.9,248.8 635.6,253.1 634.0,250.6" fill="#fec44f"/>
<polygon points="637.5,263.1 641.2,262.8 641.9,266.2 640.6,270.0 642.5,273.8 646.2,274.4 648.8,277.5 651.2,281.2 650.0,282.5 646.9,279.4 643.8,277.5 640.6,275.6 638.1,272.5 636.9,268.1" fill="#fe9929"/>
<polygon points="638.8,276.2 640.6,276.9 640.0,278.8" fill="#fe9929"/>
<polygon points="643.1,280.6 646.2,280.0 648.1,283.1 646.2,286.2 644.4,285.0" fill="#fe9929"/>
<polygon points="585.0,297.5 587.5,297.0 591.0,301.0 595.0,305.0 600.0,309.0 603.0,313.0 606.5,318.0 607.5,322.0 607.0,326.5 605.0,326.0 602.0,322.0 598.0,317.0 594.0,311.0 590.0,305.0 586.5,300.5" fill="#ffffd4"/>
<polygon points="593.5,295.0 594.5,294.0 597.0,295.5 599.5,297.5 601.0,301.0 602.5,304.0 603.5,307.0 602.0,307.8 600.0,305.5 597.0,303.0 595.0,299.0" fill="#fe9929"/>
<polygon points="605.5,327.5 607.5,326.5 612.0,328.0 617.0,329.0 622.0,330.0 627.0,331.5 628.5,333.0 625.0,333.5 620.0,332.5 614.0,331.0 609.0,330.0" fill="#ffffd4"/>
<polygon points="614.5,307.5 616.0,307.0 617.5,308.5 620.0,307.5 624.0,307.0 627.0,305.5 628.0,302.5 630.0,300.0 633.0,299.5 635.0,302.5 636.0,307.0 637.0,308.5 635.0,310.0 634.0,313.0 632.0,316.5 630.5,321.0 627.0,320.5 624.0,319.0 620.0,319.0 617.0,317.5 616.0,314.0 614.5,311.0" fill="#ffffd4"/>
<polygon points="616.0,307.0 619.0,305.0 622.0,303.5 625.5,300.5 629.0,297.0 631.5,293.0 634.0,295.0 637.5,297.0 636.0,299.5 633.0,299.5 630.0,300.0 628.0,302.5 627.0,305.5 624.0,307.0 620.0,307.5 617.5,308.5" fill="#fe9929"/>
<polygon points="639.0,310.0 642.0,308.5 647.0,308.0 651.0,306.5 652.0,307.5 649.0,309.5 645.0,310.5 642.0,311.5 644.0,313.5 647.5,313.0 646.0,315.0 643.5,316.0 645.0,319.0 646.5,323.0 645.0,325.0 643.5,322.0 641.5,319.0 640.5,322.0 641.0,325.0 639.0,324.5 637.5,320.0 637.0,317.0 638.5,313.5" fill="#ffffd4"/>
<polygon points="657.5,306.0 659.0,305.8 659.8,309.0 658.8,313.0 657.8,311.0 657.2,308.0" fill="#ffffd4"/>
<polygon points="631.5,333.5 635.0,332.2 635.5,333.5 632.5,334.5" fill="#ffffd4"/>
<polygon points="636.5,336.0 639.5,335.5 640.0,337.5 637.5,337.5" fill="#ffffd4"/>
<polygon points="639.0,333.0 645.0,332.0 646.0,333.0 641.0,334.0" fill="#ffffd4"/>
<polygon points="646.5,336.5 651.0,333.5 655.5,332.0 656.0,333.0 652.0,335.0 648.0,337.8" fill="#ffffd4"/>
<polygon points="653.5,319.5 655.5,319.0 656.2,320.2 654.2,320.8" fill="#ffffd4"/>
<polygon points="658.5,318.5 664.0,318.0 665.0,319.5 660.0,320.0" fill="#ffffd4"/>
<polygon points="644.0,290.5 647.0,289.0 650.0,288.0 651.5,286.0 653.5,287.5 654.0,291.0 653.5,294.0 651.5,295.0 650.0,292.5 648.0,291.5 645.5,292.5" fill="#fe9929"/>
<polygon points="632.5,289.0 637.0,282.0 637.8,282.5 634.0,288.5" fill="#fe9929"/>
<polygon points="645.0,283.5 647.0,283.0 647.5,286.0 646.0,287.0" fill="#fe9929"/>
<polygon points="743.8,350.0 745.0,350.5 745.2,353.8 744.0,353.2" fill="#ffffd4"/>
<polygon points="767.0,356.2 770.0,354.5 772.5,353.8 772.0,355.5 768.8,357.5" fill="#ffffd4"/>
<polygon points="718.8,325.0 723.0,327.0 722.5,328.2 719.0,326.5" fill="#ffffd4"/>
<polygon points="725.0,329.5 730.0,332.5 729.5,333.8 725.0,331.0" fill="#ffffd4"/>
<polygon points="731.2,335.0 735.0,338.0 734.2,339.2 731.0,336.5" fill="#ffffd4"/>
<polygon points="628.8,206.9 631.2,204.4 634.4,200.6 636.9,196.9 638.1,200.0 637.5,202.5 635.6,206.9 633.8,210.6 631.5,211.5" fill="url(#h)" stroke="#d6d6d6"/>
<polygon points="634.4,212.5 636.9,210.6 639.4,211.2 641.9,214.4 643.8,218.1 642.8,220.0 640.0,221.2 637.5,219.4 635.6,215.6" fill="#fe9929"/>
<polygon points="639.4,170.6 641.9,172.5 646.2,177.5 651.2,181.9 654.4,183.1 652.5,184.4 655.6,188.8 657.5,190.6 655.0,190.0 652.5,186.9 648.8,182.5 645.0,178.8 641.2,174.4" fill="#fe9929"/>
<polygon points="655.6,193.8 658.1,193.1 660.0,195.6 662.5,196.9 665.6,196.2 666.9,198.1 663.8,199.4 663.1,201.2 660.0,201.9 658.1,202.5 656.2,200.0" fill="#fe9929"/>
<polygon points="659.4,203.1 661.2,203.1 663.8,205.6 665.6,208.8 666.2,213.1 668.1,216.9 666.9,219.4 664.4,220.0 662.5,221.9 660.0,222.5 658.1,221.2 656.2,222.5 653.8,221.9 651.2,222.5 648.8,224.4 646.9,224.4 648.8,221.9 651.2,219.4 653.1,218.1 656.2,218.1 658.1,216.9 657.5,213.8 660.0,213.1 661.2,210.0 660.6,206.9" fill="#fe9929"/>
<polygon points="646.9,224.4 648.8,223.1 651.2,223.8 652.5,226.9 651.9,229.4 650.0,228.1 648.1,226.2" fill="#fe9929"/>
<polygon points="653.8,223.1 656.9,222.5 657.2,224.0 654.4,225.0" fill="#fe9929"/>
<polygon points="106.2,179.7 110.0,179.0 113.7,182.0 114.5,186.5 113.0,187.2 110.0,183.5 107.7,182.0" fill="#fee391"/>
<polygon points="103.2,171.2 106.2,170.0 107.0,171.8 104.7,173.0 104.0,175.7 102.9,174.5" fill="#fee391"/>
<polygon points="372.5,152.5 375.6,150.0 380.0,146.9 385.0,142.5 390.0,137.5 395.0,133.8 400.0,131.9 406.2,130.6 411.2,130.6 414.4,132.5 411.9,133.8 409.4,133.1 406.2,135.0 403.1,136.9 400.0,135.0 396.9,136.2 392.5,139.4 389.4,143.8 386.9,147.5 385.0,151.9 385.0,156.2 383.1,158.8 380.6,160.6 376.9,161.2 373.8,158.8 372.5,155.6" fill="#ffffd4"/>
<polygon points="385.0,151.9 386.9,147.5 389.4,143.8 392.5,139.4 396.9,136.2 400.0,135.0 402.5,137.5 403.1,141.2 400.6,144.4 397.5,148.1 395.6,151.2 395.6,155.0 396.9,158.1 394.4,161.9 392.5,165.0 389.4,166.9 386.9,165.0 385.6,161.9 384.4,158.8 385.0,156.2" fill="#fee391"/>
<polygon points="403.1,136.9 406.2,135.0 409.4,133.1 411.9,133.8 414.4,132.5 412.5,135.0 413.1,137.5 415.0,141.2 416.9,146.2 418.8,150.6 416.9,153.8 412.5,155.6 408.1,156.2 404.4,155.0 401.9,151.9 401.9,148.1 403.8,145.0 405.6,143.1 403.1,141.2 402.5,137.5" fill="#ffffd4"/>
<polyline points="475.0,201.2 478.8,198.8 478.8,193.8 482.5,192.5 486.2,193.1 490.0,195.6 493.8,198.1 498.8,197.5 502.5,200.0 505.0,202.5 508.8,204.4 510.6,201.9 513.1,199.4 516.2,198.8 521.2,198.1 526.2,198.8 530.6,198.1 531.9,199.4" fill="none"/>
<polyline points="475.0,201.2 479.4,201.9 482.5,200.0 486.2,199.4 490.0,201.9 493.8,205.0 498.8,208.1 503.1,210.6 507.5,212.5" fill="none"/>
<polyline points="507.5,212.5 508.8,208.8 507.5,206.9 510.0,205.6 508.8,204.4" fill="none"/>
<polyline points="510.6,204.4 514.4,203.1 517.5,204.4 515.0,206.2 511.9,206.2 510.0,205.6 513.8,208.1 518.8,207.5 522.5,208.1 525.0,206.2" fill="none"/>
<polyline points="531.9,199.4 528.8,203.1 525.0,206.2 521.2,208.1" fill="none"/>
<polyline points="397.5,251.2 413.8,260.0 415.0,257.5 418.8,257.5 418.8,253.8" fill="none"/>
<polyline points="418.8,257.5 416.2,265.0 413.8,270.0 415.0,277.5" fill="none"/>
<polyline points="415.0,277.5 410.0,281.2 405.0,286.2 400.0,290.0" fill="none"/>
<polyline points="415.0,277.5 417.5,283.8 422.5,286.2 430.0,288.8 427.5,291.2" fill="none"/>
<polyline points="430.0,288.8 437.5,286.2 440.0,290.0" fill="none"/>
<polyline points="398.8,301.2 402.5,300.0 407.5,296.2 412.5,292.5 420.0,293.8 427.5,291.2 430.0,298.8 433.8,302.5" fill="none"/>
<polyline points="387.0,216.2 385.0,221.2 387.5,225.0 386.2,227.5" fill="none"/>
<polyline points="417.5,341.2 420.0,341.2 425.0,342.5 430.0,345.0 428.8,338.8 431.2,333.8 437.5,336.2" fill="none"/>
<polyline points="418.8,357.0 411.2,358.0 411.2,358.8 410.0,367.5 407.5,368.8 407.5,380.0" fill="none"/>
<polyline points="422.5,357.5 426.2,366.2" fill="none"/>
<polyline points="418.8,357.0 422.5,357.5 427.5,352.5 433.8,350.0 437.5,353.8" fill="none"/>
<polyline points="342.5,281.9 345.0,284.4 350.6,284.4" fill="none"/>
<polyline points="343.8,290.0 342.5,291.2 345.6,295.0" fill="none"/>
<polyline points="338.8,289.4 336.9,291.9" fill="none"/>
<polyline points="325.0,278.8 330.0,278.5 330.6,280.6" fill="none"/>
<polyline points="430.0,315.0 429.8,320.0 431.2,323.1" fill="none"/>
<polyline points="430.0,317.5 433.1,317.2" fill="none"/>
<polyline points="391.9,305.0 395.0,305.6" fill="none"/>
<polyline points="409.4,180.6 410.0,184.4 413.8,185.6 417.5,186.2 421.2,188.8" fill="none"/>
<polyline points="417.5,186.2 421.2,186.9 423.1,190.6" fill="none"/>
<polyline points="388.1,186.2 392.5,185.2 396.2,185.0 397.5,186.5" fill="none"/>
<polyline points="396.2,184.6 399.4,183.4" fill="none"/>
<polyline points="397.5,186.5 400.0,186.5 405.0,186.2 408.1,186.9 410.0,184.4" fill="none"/>
<polyline points="397.5,186.5 396.5,189.0 398.8,191.2 402.5,191.9 406.9,190.0 408.1,186.9" fill="none"/>
<polyline points="383.8,186.6 383.8,188.8" fill="none"/>
<polyline points="383.8,188.1 386.9,188.8 391.2,189.8 396.2,188.8 396.5,189.0" fill="none"/>
<polyline points="406.9,190.0 407.5,192.5 410.0,195.0 415.0,195.6 420.0,195.0" fill="none"/>
<polyline points="410.0,195.0 410.6,199.4 410.0,203.8" fill="none"/>
<polyline points="391.2,190.0 393.1,191.9 395.6,191.2 398.8,191.2" fill="none"/>
<polyline points="395.6,192.5 398.8,193.1 402.5,193.8 406.9,193.1 407.5,192.5" fill="none"/>
<polyline points="398.8,195.6 401.2,195.0 402.5,193.8" fill="none"/>
<polyline points="402.5,199.4 403.8,196.9 406.9,197.5 410.0,198.1" fill="none"/>
<polyline points="405.0,201.9 406.9,201.9 410.0,201.2 410.6,199.4" fill="none"/>
<polyline points="405.6,205.0 406.9,201.9" fill="none"/>
<polyline points="450.0,212.8 451.9,215.6 448.8,219.4 444.4,222.5 442.5,221.9" fill="none"/>
<polyline points="448.8,219.4 450.0,221.9 446.9,224.4 448.8,226.9" fill="none"/>
<polyline points="466.9,235.0 468.1,233.1 470.0,232.5" fill="none"/>
<polyline points="456.2,203.4 460.0,203.1 461.2,201.2" fill="none"/>
<polyline points="460.0,203.1 458.1,205.9" fill="none"/>
<polyline points="687.5,317.5 687.5,333.8" fill="none"/>
<polyline points="160.6,265.0 160.0,268.1 162.5,268.8" fill="none"/>
<polyline points="160.6,271.2 162.5,268.8" fill="none"/>
<polyline points="158.8,273.8 160.6,271.2 162.5,273.8 164.4,275.6" fill="none"/>
<polyline points="164.4,275.6 166.9,275.0 169.4,272.5 173.1,271.9" fill="none"/>
<polyline points="166.2,282.5 168.1,281.9 171.2,281.9" fill="none"/>
<polyline points="173.1,288.1 173.8,285.0" fill="none"/>
<polyline points="593.1,253.1 595.0,256.9 599.4,258.1 602.5,262.5 603.1,267.5 601.2,272.5 598.1,275.0" fill="none"/>
<polyline points="603.1,267.5 603.1,271.2 605.6,273.1 608.1,272.5" fill="none"/>
<polyline points="601.2,273.1 605.6,273.5" fill="none"/>
<polyline points="408.1,160.6 411.2,161.5 415.6,160.9" fill="none"/>
<polyline points="405.0,165.0 408.1,164.5 412.5,165.1 415.0,164.8" fill="none"/>
<polyline points="406.9,170.2 410.6,170.8 413.8,168.8 415.0,164.8" fill="none"/>
<polyline points="410.6,170.8 410.6,175.0 413.8,176.9 418.8,176.9 423.1,176.2 425.0,173.8" fill="none"/>
</g>
<!-- legend -->
<g>
<text class="lg" x="180" y="530" text-anchor="middle" textLength="46" lengthAdjust="spacingAndGlyphs">No data</text>
<rect x="156" y="537.5" width="48" height="11" fill="url(#h)" stroke="#b4b4b4" stroke-width="0.7"/>
<line x1="180" y1="534.5" x2="180" y2="537.5" stroke="#b4b4b4" stroke-width="0.6"/>
<rect x="223.7" y="537.5" width="67.06" height="11" fill="#ffffd4"/>
<rect x="290.76" y="537.5" width="67.06" height="11" fill="#fee391"/>
<rect x="357.82" y="537.5" width="67.06" height="11" fill="#fec44f"/>
<rect x="424.88" y="537.5" width="67.06" height="11" fill="#fe9929"/>
<rect x="491.94" y="537.5" width="67.06" height="11" fill="#ec7014"/>
<rect x="559.0" y="537.5" width="67.06" height="11" fill="#cc4c02"/>
<path d="M626.06 537.5H688.6L693.6 543L688.6 548.5H626.06Z" fill="#8c2d04"/>
<path d="M223.7 537.5H688.6L693.6 543L688.6 548.5H223.7Z" fill="none" stroke="#9a9a9a" stroke-width="0.6"/>
<g stroke="#9a9a9a" stroke-width="0.6">
<line x1="290.76" y1="535" x2="290.76" y2="548.5"/><line x1="357.82" y1="535" x2="357.82" y2="548.5"/>
<line x1="424.88" y1="535" x2="424.88" y2="548.5"/><line x1="491.94" y1="535" x2="491.94" y2="548.5"/>
<line x1="559" y1="535" x2="559" y2="548.5"/><line x1="626.06" y1="535" x2="626.06" y2="548.5"/>
<line x1="223.7" y1="535" x2="223.7" y2="548.5"/>
</g>
<text class="lg" x="224" y="530" text-anchor="middle" textLength="16" lengthAdjust="spacingAndGlyphs">0 t</text>
<text class="lg" x="291.5" y="530" text-anchor="middle" textLength="57" lengthAdjust="spacingAndGlyphs">100,000 t</text>
<text class="lg" x="358.5" y="530" text-anchor="middle" textLength="57" lengthAdjust="spacingAndGlyphs">200,000 t</text>
<text class="lg" x="425.5" y="530" text-anchor="middle" textLength="57" lengthAdjust="spacingAndGlyphs">500,000 t</text>
<text class="lg" x="492.5" y="530" text-anchor="middle" textLength="57" lengthAdjust="spacingAndGlyphs">1 million t</text>
<text class="lg" x="559.5" y="530" text-anchor="middle" textLength="57" lengthAdjust="spacingAndGlyphs">2 million t</text>
<text class="lg" x="626.5" y="530" text-anchor="middle" textLength="57" lengthAdjust="spacingAndGlyphs">5 million t</text>
</g>
<!-- footer -->
<text class="ft" x="17" y="580.5" font-weight="bold" textLength="71" lengthAdjust="spacingAndGlyphs">Data source:</text>
<text class="ft" x="92.3" y="580.5" textLength="363.5" lengthAdjust="spacingAndGlyphs">Food and Agriculture Organization of the United Nations (2025)</text>
<text class="ft" x="833.5" y="580.5" text-anchor="end" textLength="214.5" lengthAdjust="spacingAndGlyphs">OurWorldinData.org/palm-oil | CC BY</text>
</svg>
</body></html>
